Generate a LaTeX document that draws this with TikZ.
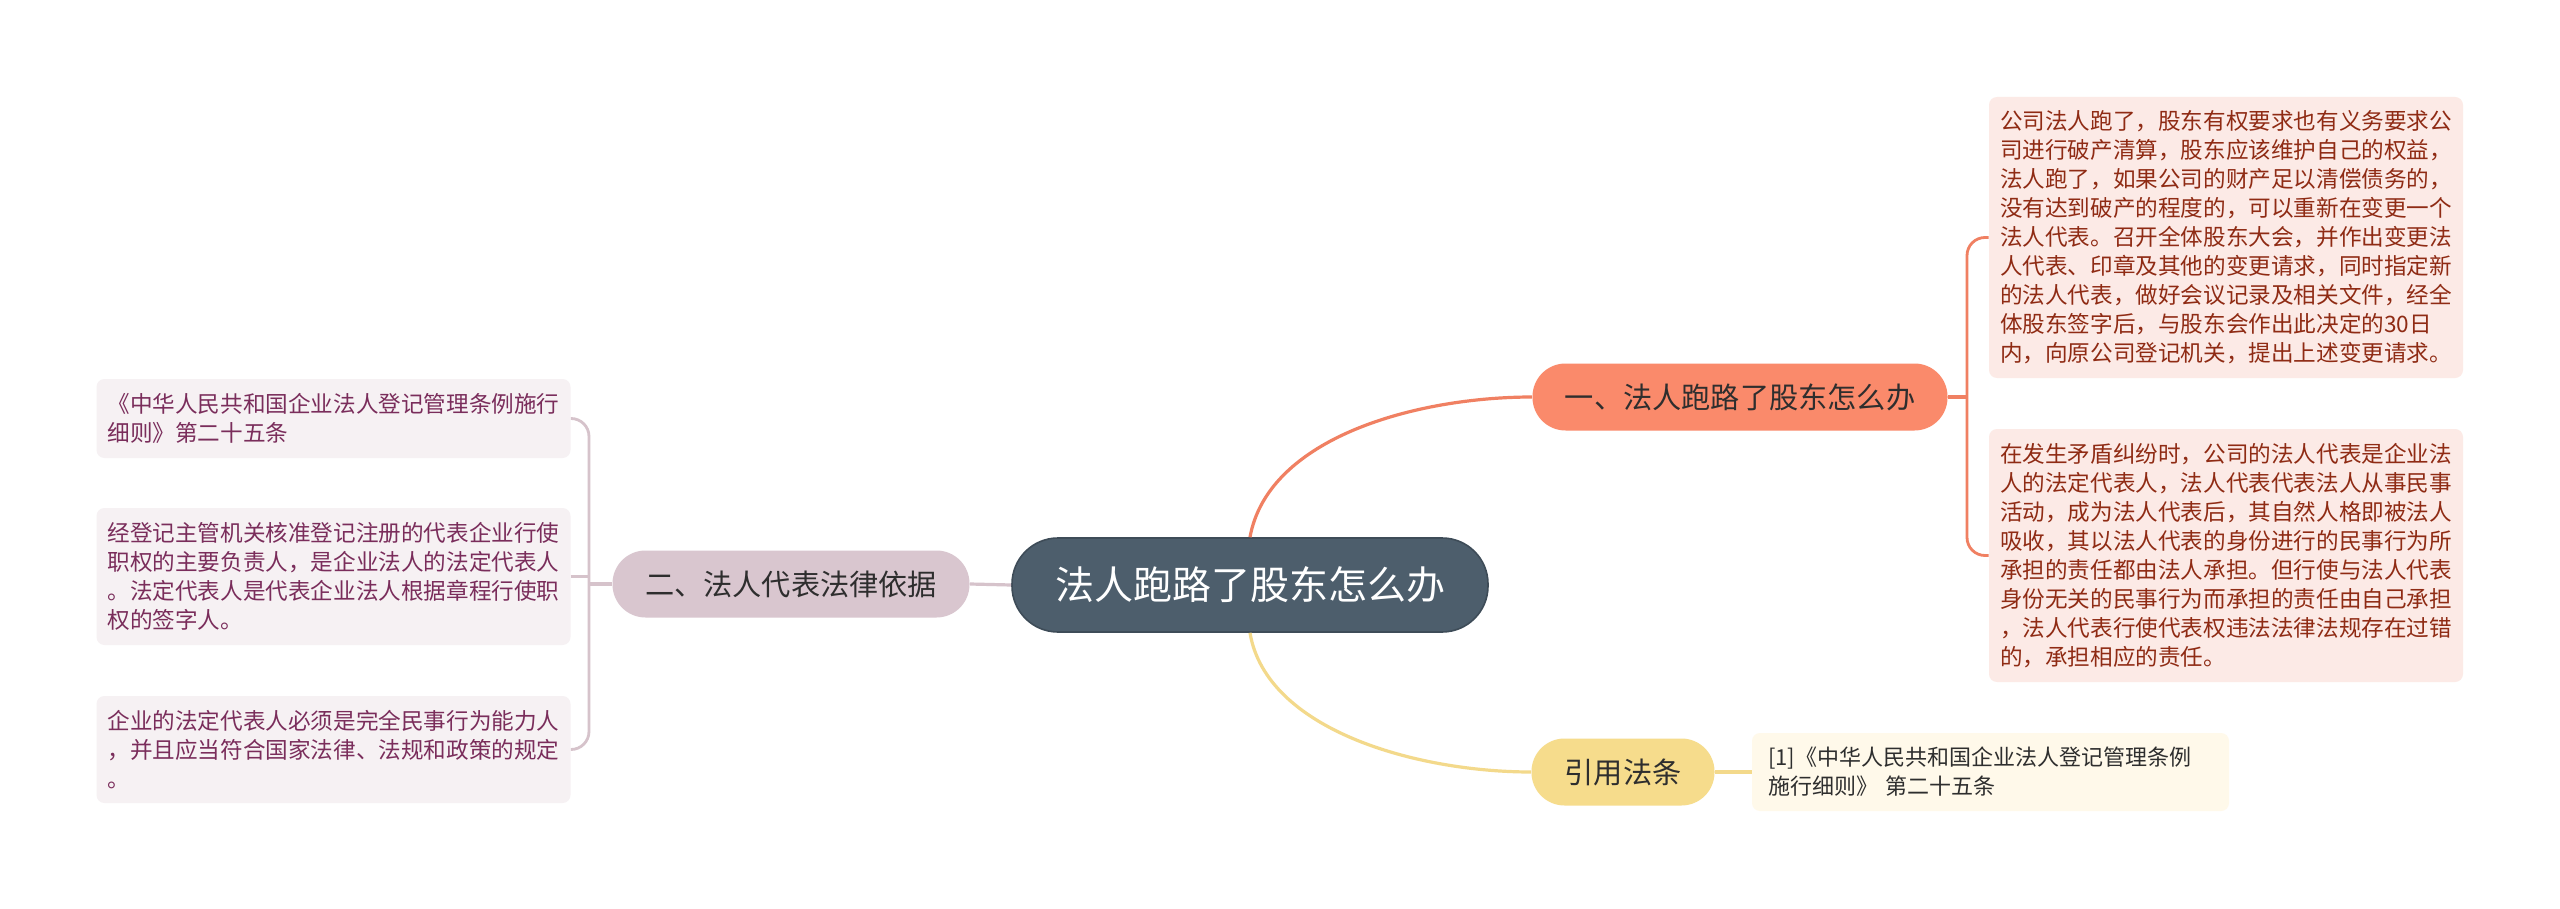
\documentclass[tikz,border=0pt]{standalone}
\usepackage{fontspec}
\setmainfont{Noto Sans CJK SC}
\usepackage{xcolor}
\usepackage{tikz}
\usetikzlibrary{calc,positioning}
\definecolor{rootfill}{HTML}{4D5E6C}
\definecolor{rootdraw}{HTML}{3E4C58}
\definecolor{orangefill}{HTML}{FA8A6B}
\definecolor{orangeline}{HTML}{F08062}
\definecolor{orangeleaf}{HTML}{FCEAE6}
\definecolor{orangetext}{HTML}{8F2B14}
\definecolor{mauvefill}{HTML}{D9C6CF}
\definecolor{mauveline}{HTML}{D6C3CB}
\definecolor{mauveleaf}{HTML}{F6F1F3}
\definecolor{mauvetext}{HTML}{7A2D5B}
\definecolor{yellowfill}{HTML}{F6DC8C}
\definecolor{yellowline}{HTML}{F3D98B}
\definecolor{yellowleaf}{HTML}{FFF9EA}
\definecolor{darktext}{HTML}{2E2E2E}

\tikzset{
  rootnode/.style={rounded corners=23pt, fill=rootfill, draw=rootdraw, line width=0.8pt, text=white,
    minimum width=238pt, minimum height=47pt, font=\fontsize{19.5pt}{23pt}\selectfont},
  branchnode/.style={rounded corners=16.5pt, minimum height=33.5pt, text=darktext,
    font=\fontsize{14.6pt}{18pt}\selectfont},
  leafnode/.style={rounded corners=4pt, inner xsep=5.5pt, inner ysep=0pt, align=left,
    text width=226pt, font=\fontsize{11.3pt}{14.5pt}\selectfont},
  link/.style={line width=1.6pt},
  bracket/.style={line width=1.4pt, rounded corners=9pt},
}

\begin{document}
\begin{tikzpicture}[x=0.5pt, y=-0.5pt]
  \useasboundingbox[fill=white] (0,0) rectangle (2560,909);

  % centre and main branches
  \node[rootnode] (root) at (1250,585) {法人跑路了股东怎么办};
  \node[branchnode, fill=orangefill, minimum width=207.5pt] (lawrun) at (1740,397) {一、法人跑路了股东怎么办};
  \node[branchnode, fill=mauvefill, minimum width=178.5pt] (lawbasis) at (791,584) {二、法人代表法律依据};
  \node[branchnode, fill=yellowfill, minimum width=91.5pt] (cite) at (1623,772) {引用法条};

  % right leaves
  \node[leafnode, fill=orangeleaf, text=orangetext, minimum height=140.5pt] (runa) at (2226,237.5) {
    公司法人跑了，股东有权要求也有义务要求公\\
    司进行破产清算，股东应该维护自己的权益，\\
    法人跑了，如果公司的财产足以清偿债务的，\\
    没有达到破产的程度的，可以重新在变更一个\\
    法人代表。召开全体股东大会，并作出变更法\\
    人代表、印章及其他的变更请求，同时指定新\\
    的法人代表，做好会议记录及相关文件，经全\\
    体股东签字后，与股东会作出此决定的30日\\
    内，向原公司登记机关，提出上述变更请求。};
  \node[leafnode, fill=orangeleaf, text=orangetext, minimum height=126.5pt] (runb) at (2226,555.5) {
    在发生矛盾纠纷时，公司的法人代表是企业法\\
    人的法定代表人，法人代表代表法人从事民事\\
    活动，成为法人代表后，其自然人格即被法人\\
    吸收，其以法人代表的身份进行的民事行为所\\
    承担的责任都由法人承担。但行使与法人代表\\
    身份无关的民事行为而承担的责任由自己承担\\
    ，法人代表行使代表权违法法律法规存在过错\\
    的，承担相应的责任。};

  % left leaves
  \node[leafnode, fill=mauveleaf, text=mauvetext, minimum height=39.5pt] (basisa) at (333.5,418.5) {
    《中华人民共和国企业法人登记管理条例施行\\
    细则》第二十五条};
  \node[leafnode, fill=mauveleaf, text=mauvetext, minimum height=68.5pt] (basisb) at (333.5,576.5) {
    经登记主管机关核准登记注册的代表企业行使\\
    职权的主要负责人，是企业法人的法定代表人\\
    。法定代表人是代表企业法人根据章程行使职\\
    权的签字人。};
  \node[leafnode, fill=mauveleaf, text=mauvetext, minimum height=53.5pt] (basisc) at (333.5,749.5) {
    企业的法定代表人必须是完全民事行为能力人\\
    ，并且应当符合国家法律、法规和政策的规定\\
    。};

  % citation leaf
  \node[leafnode, fill=yellowleaf, text=darktext, inner xsep=8pt, text width=222.5pt, minimum height=39pt,
    font=\fontsize{11pt}{14.5pt}\selectfont] (citea) at (1990.5,772) {
    [1]《中华人民共和国企业法人登记管理条例\\
    施行细则》 第二十五条};

  % connectors from the centre
  \draw[link, orangeline] (root.north) .. controls ($(root.north)+(18,-100)$) and ($(lawrun.west)+(-115,0)$) .. (lawrun.west);
  \draw[link, yellowline] (root.south) .. controls ($(root.south)+(16,97)$) and ($(cite.west)+(-115,0)$) .. (cite.west);
  \draw[link, mauveline] (root.west) -- (lawbasis.east);

  % brackets to the leaves
  \coordinate (runjoin) at (1967,397);
  \draw[link, orangeline] (lawrun.east) -- (runjoin);
  \draw[bracket, orangeline] (runa.west) -| (runjoin) |- (runb.west);

  \coordinate (basisjoin) at (589,584);
  \draw[link, mauveline] (lawbasis.west) -- (basisjoin);
  \draw[bracket, mauveline] (basisa.east) -| (basisjoin) |- (basisc.east);
  \draw[bracket, mauveline] (basisb.east) -- (basisb.east -| basisjoin);

  \draw[link, yellowline] (cite.east) -- (citea.west);
\end{tikzpicture}
\end{document}
